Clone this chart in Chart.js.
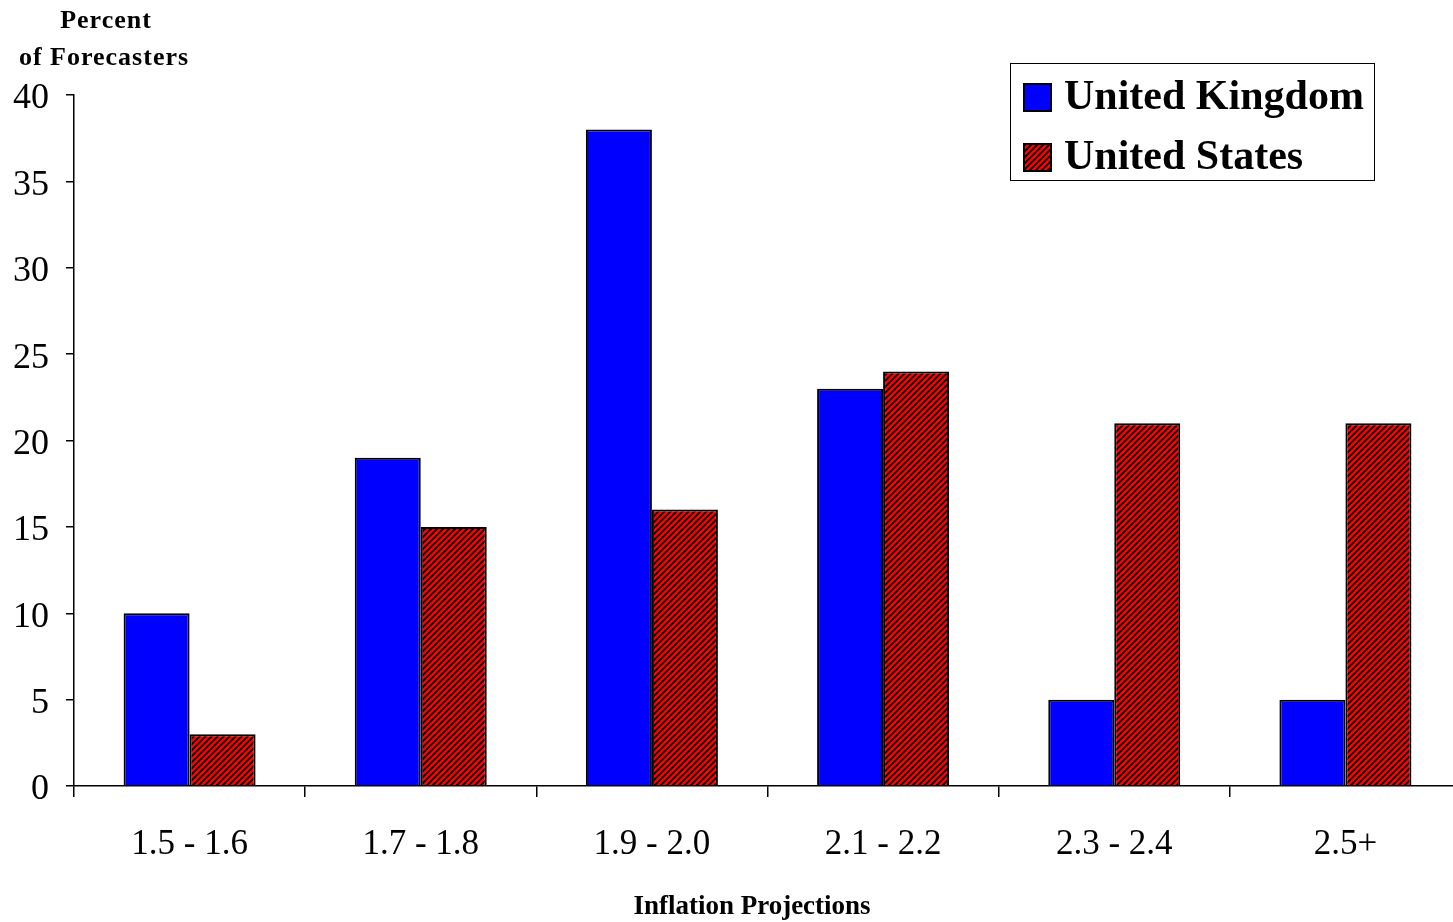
<!DOCTYPE html>
<html>
<head>
<meta charset="utf-8">
<script src="https://cdn.jsdelivr.net/npm/chart.js@4/dist/chart.umd.min.js"></script>
<style>
  html, body { margin: 0; padding: 0; background: #fff; overflow: hidden; }
  #wrap { width: 1461px; height: 922px; }
</style>
</head>
<body>
<div id="wrap"><canvas id="c" width="1461" height="922"></canvas></div>
<script>
// Distribution of forecasters' inflation projections
const categories = ['1.5 - 1.6', '1.7 - 1.8', '1.9 - 2.0', '2.1 - 2.2', '2.3 - 2.4', '2.5+'];
const ukValues = [10, 19, 38, 23, 5, 5];
const usValues = [3, 15, 16, 24, 21, 21];
const seriesNames = ['United Kingdom', 'United States'];
const yTickValues = [0, 5, 10, 15, 20, 25, 30, 35, 40];
const yTitleLines = ['Percent', 'of Forecasters'];
const xTitle = 'Inflation Projections';

const SERIF = '"Liberation Serif", "Times New Roman", Times, serif';

// red fill with black "/" hatching
function makeHatch() {
  const s = 6;
  const p = document.createElement('canvas');
  p.width = s; p.height = s;
  const g = p.getContext('2d');
  g.fillStyle = '#ff0000';
  g.fillRect(0, 0, s, s);
  g.strokeStyle = '#000';
  g.lineWidth = 1.8;
  g.beginPath();
  g.moveTo(-1, s + 1); g.lineTo(s + 1, -1);
  g.moveTo(-1, 1); g.lineTo(1, -1);
  g.moveTo(s - 1, s + 1); g.lineTo(s + 1, s - 1);
  g.stroke();
  return g.createPattern(p, 'repeat');
}
const ctx = document.getElementById('c').getContext('2d');
const hatch = makeHatch();

// axis titles and boxed legend
const decorations = {
  id: 'decorations',
  afterDraw(chart) {
    const g = chart.ctx;
    g.save();
    g.fillStyle = '#000';
    g.textAlign = 'center';
    g.textBaseline = 'middle';
    g.font = 'bold 26px ' + SERIF;
    g.letterSpacing = '1px';
    g.fillText(yTitleLines[0], 106, 21);
    g.fillText(yTitleLines[1], 104, 58);
    g.font = 'bold 27px ' + SERIF;
    g.letterSpacing = '0px';
    g.fillText(xTitle, 752, 907);

    // legend
    const bx = 1010.5, by = 63.5, bw = 364, bh = 117;
    g.fillStyle = '#fff';
    g.fillRect(bx, by, bw, bh);
    g.strokeStyle = '#000';
    g.lineWidth = 1;
    g.strokeRect(bx, by, bw, bh);
    const rows = [97, 157];
    chart.data.datasets.forEach((ds, i) => {
      const y = rows[i];
      g.fillStyle = ds.backgroundColor;
      g.fillRect(1024, y - 13, 27, 27);
      g.lineWidth = 2;
      g.strokeStyle = '#000';
      g.strokeRect(1024, y - 13, 27, 27);
      g.fillStyle = '#000';
      g.textAlign = 'left';
      g.font = 'bold 42px ' + SERIF;
      g.fillText(ds.label, 1064, y + 1);
    });
    g.restore();
  }
};

new Chart(ctx, {
  type: 'bar',
  data: {
    labels: categories,
    datasets: [
      { label: seriesNames[0], data: ukValues, backgroundColor: '#0000ff', borderColor: '#000', borderWidth: 2 },
      { label: seriesNames[1], data: usValues, backgroundColor: hatch, borderColor: '#000', borderWidth: 2 }
    ]
  },
  options: {
    responsive: false,
    animation: false,
    layout: { padding: { top: 95, left: 0, right: 0, bottom: 0 } },
    datasets: { bar: { barPercentage: 1, categoryPercentage: 0.571 } },
    plugins: { legend: { display: false }, tooltip: { enabled: false }, title: { display: false } },
    scales: {
      x: {
        afterFit(s) { s.height = 136; },
        border: { color: '#000', width: 1.5 },
        grid: { offset: true, drawOnChartArea: false, drawTicks: true, tickLength: 11, color: '#000', lineWidth: 1.5 },
        ticks: { color: '#000', font: { family: SERIF, size: 35 }, padding: 27, maxRotation: 0 }
      },
      y: {
        min: 0, max: 40,
        afterFit(s) { s.width = 74; },
        afterBuildTicks(s) { s.ticks = yTickValues.map(v => ({ value: v })); },
        border: { color: '#000', width: 1.5 },
        grid: { drawOnChartArea: false, drawTicks: true, tickLength: 8, color: '#000', lineWidth: 1.5 },
        ticks: { color: '#000', font: { family: SERIF, size: 36, lineHeight: 1.0 }, padding: 17, labelOffset: 4 }
      }
    }
  },
  plugins: [decorations]
});
</script>
</body>
</html>
